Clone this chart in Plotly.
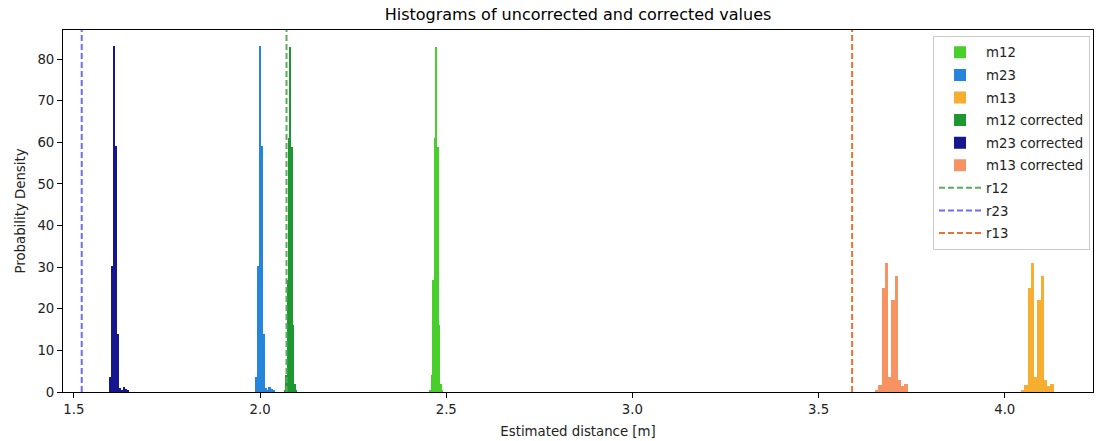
import plotly.graph_objects as go

# ---------------- data ----------------
# histogram densities, uniform bins: start of first bin and bin width
m12_start, m12_width = 2.4559, 0.00395
m12_density = [0.5, 4, 27, 61, 83, 59, 16, 2, 0.5]

m23_start, m23_width = 1.9876, 0.00515
m23_density = [3.6, 30.2, 83.2, 59.1, 14.0, 1.0, 0.6, 1.2, 0.8, 0.3]

m13_start, m13_width = 4.0438, 0.00878
m13_density = [0.4, 1.7, 24.9, 30.9, 3.6, 22.0, 27.8, 2.8, 1.5, 2.0]

m12c_start, m12c_width = 2.0645, 0.00395
m12c_density = [0.5, 4, 27, 61, 83, 59, 16, 2, 0.5]

m23c_start, m23c_width = 1.5962, 0.00515
m23c_density = [3.6, 30.2, 83.2, 59.1, 14.0, 1.0, 0.6, 1.2, 0.8, 0.3]

m13c_start, m13c_width = 3.6515, 0.00878
m13c_density = [0.4, 1.7, 24.9, 30.9, 3.6, 22.0, 27.8, 2.8, 1.5, 2.0]

r12 = 2.071
r23 = 1.521
r13 = 3.590

x_ticks = [1.5, 2.0, 2.5, 3.0, 3.5, 4.0]
x_tick_labels = ["1.5", "2.0", "2.5", "3.0", "3.5", "4.0"]
y_ticks = [0, 10, 20, 30, 40, 50, 60, 70, 80]

# ---------------- figure ----------------
FONT = "DejaVu Sans"
fig = go.Figure()

def add_hist(name, start, width, dens, color, group):
    centers = [start + width * (i + 0.5) for i in range(len(dens))]
    fig.add_trace(go.Bar(
        x=centers, y=dens, width=[width] * len(dens), name=name,
        marker=dict(color=color, line=dict(width=0)),
        legendgroup=group,
    ))

add_hist("m12", m12_start, m12_width, m12_density, "#48cf2b", "a")
add_hist("m23", m23_start, m23_width, m23_density, "#2585dd", "b")
add_hist("m13", m13_start, m13_width, m13_density, "#f5ae30", "c")
add_hist("m12 corrected", m12c_start, m12c_width, m12c_density, "#1e9632", "d")
add_hist("m23 corrected", m23c_start, m23c_width, m23c_density, "#16168f", "e")
add_hist("m13 corrected", m13c_start, m13c_width, m13c_density, "#f79262", "f")

for name, val, color, group in [("r12", r12, "#5aad5a", "g"),
                                 ("r23", r23, "#6b6bff", "h"),
                                 ("r13", r13, "#f07030", "i")]:
    fig.add_trace(go.Scatter(
        x=[val, val], y=[0, 87], mode="lines", name=name,
        line=dict(color=color, width=2, dash="6px,3px"),
        legendgroup=group,
    ))

fig.update_layout(
    width=1096, height=441,
    margin=dict(l=63, r=3, t=30, b=49),
    plot_bgcolor="white", paper_bgcolor="white",
    barmode="overlay", bargap=0,
    font=dict(family=FONT, size=13, color="#222"),
    title=dict(text="Histograms of uncorrected and corrected values",
               x=0.5, xref="paper", xanchor="center",
               y=1 - 14 / 441, yref="container", yanchor="middle",
               font=dict(family=FONT, size=16, color="black")),
    legend=dict(x=0.9971, xanchor="right", y=0.983, yanchor="top",
                bgcolor="rgba(255,255,255,0.85)", bordercolor="#cccccc",
                borderwidth=1, font=dict(family=FONT, size=13.3, color="#222"),
                traceorder="grouped", tracegroupgap=2.3, itemwidth=42),
    showlegend=True,
)
fig.update_xaxes(
    range=[1.4707, 4.237], tickvals=x_ticks, ticktext=x_tick_labels,
    showgrid=False, zeroline=False, showline=True, linecolor="black",
    linewidth=1, mirror=True, ticks="outside", ticklen=5, tickcolor="black",
    tickfont=dict(family=FONT, size=13.3, color="#222"),
    title=dict(text="Estimated distance [m]", standoff=10,
               font=dict(family=FONT, size=13.3, color="#222")),
)
fig.update_yaxes(
    range=[0, 87], tickvals=y_ticks,
    showgrid=False, zeroline=False, showline=True, linecolor="black",
    linewidth=1, mirror=True, ticks="outside", ticklen=5, tickcolor="black",
    tickfont=dict(family=FONT, size=13.3, color="#222"),
    title=dict(text="Probability Density", standoff=8,
               font=dict(family=FONT, size=13.3, color="#222")),
)

fig.write_html("out.html")
